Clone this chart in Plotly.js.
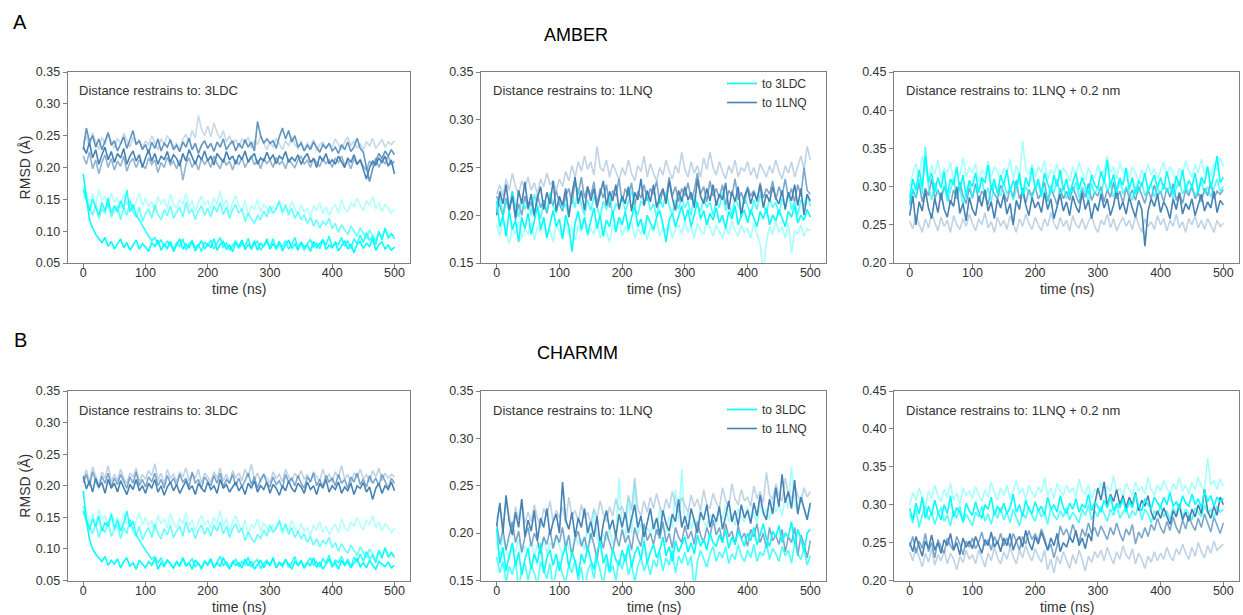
<!DOCTYPE html>
<html>
<head>
<meta charset="utf-8">
<script src="https://cdn.plot.ly/plotly-3.0.1.min.js"></script>
<style>
html,body{margin:0;padding:0;background:#fff;}
#chart{width:1243px;height:615px;}
</style>
</head>
<body>
<div id="chart"></div>
<script>
// time axis (ns), every 5 ns
const time = [0,5,10,15,20,25,30,35,40,45,50,55,60,65,70,75,80,85,90,95,
100,105,110,115,120,125,130,135,140,145,150,155,160,165,170,175,180,185,190,195,
200,205,210,215,220,225,230,235,240,245,250,255,260,265,270,275,280,285,290,295,
300,305,310,315,320,325,330,335,340,345,350,355,360,365,370,375,380,385,390,395,
400,405,410,415,420,425,430,435,440,445,450,455,460,465,470,475,480,485,490,495,500];

const panelTitles = ["AMBER", "CHARMM"];
const panelLetters = ["A", "B"];
const restraintLabels = ["Distance restrains to: 3LDC", "Distance restrains to: 1LNQ", "Distance restrains to: 1LNQ + 0.2 nm"];
const legendNames = ["to 3LDC", "to 1LNQ"];
const yRanges = [[0.05, 0.35], [0.15, 0.35], [0.20, 0.45]];
const xTicks = [0, 100, 200, 300, 400, 500];

// ================= AMBER, restraints to 3LDC =================
const amber3ldc_to3ldc_1 = [0.190,0.150,0.118,0.105,0.095,0.088,0.082,0.090,0.076,0.084,
0.072,0.080,0.088,0.074,0.082,0.070,0.078,0.086,0.072,0.080,
0.075,0.068,0.082,0.076,0.086,0.070,0.079,0.073,0.084,0.068,
0.078,0.088,0.072,0.080,0.074,0.083,0.069,0.077,0.085,0.072,
0.080,0.074,0.088,0.070,0.079,0.084,0.072,0.078,0.068,0.082,
0.076,0.086,0.071,0.079,0.073,0.085,0.070,0.081,0.075,0.088,
0.072,0.080,0.074,0.084,0.069,0.078,0.086,0.073,0.080,0.070,
0.083,0.075,0.079,0.068,0.084,0.074,0.080,0.087,0.071,0.078,
0.074,0.082,0.069,0.078,0.085,0.072,0.080,0.066,0.079,0.084,
0.073,0.081,0.076,0.088,0.070,0.079,0.083,0.072,0.078,0.070,
0.075];
const amber3ldc_to3ldc_2 = [0.165,0.148,0.132,0.150,0.138,0.125,0.145,0.132,0.152,0.128,
0.140,0.130,0.148,0.135,0.165,0.130,0.142,0.125,0.118,0.108,
0.100,0.092,0.085,0.090,0.080,0.086,0.076,0.084,0.078,0.072,
0.082,0.076,0.088,0.070,0.080,0.085,0.074,0.079,0.068,0.083,
0.077,0.086,0.072,0.080,0.090,0.074,0.082,0.070,0.078,0.085,
0.073,0.081,0.076,0.089,0.072,0.080,0.084,0.070,0.078,0.083,
0.075,0.088,0.071,0.080,0.076,0.085,0.072,0.079,0.090,0.074,
0.082,0.070,0.080,0.087,0.075,0.081,0.072,0.086,0.078,0.092,
0.074,0.083,0.079,0.090,0.076,0.085,0.072,0.088,0.080,0.094,
0.082,0.098,0.085,0.092,0.079,0.100,0.086,0.105,0.090,0.096,
0.088];
const amber3ldc_to3ldc_3 = [0.170,0.150,0.138,0.125,0.142,0.120,0.135,0.128,0.145,0.122,
0.132,0.140,0.118,0.136,0.125,0.148,0.130,0.122,0.138,0.115,
0.128,0.135,0.120,0.142,0.126,0.118,0.134,0.124,0.140,0.120,
0.130,0.138,0.122,0.145,0.128,0.135,0.118,0.132,0.140,0.125,
0.136,0.122,0.140,0.130,0.145,0.126,0.138,0.120,0.134,0.142,
0.128,0.135,0.115,0.128,0.120,0.112,0.125,0.118,0.132,0.122,
0.140,0.128,0.135,0.148,0.130,0.142,0.125,0.136,0.120,0.130,
0.118,0.126,0.112,0.122,0.108,0.118,0.105,0.115,0.110,0.120,
0.104,0.112,0.098,0.110,0.102,0.095,0.108,0.100,0.092,0.105,
0.096,0.088,0.102,0.094,0.085,0.098,0.090,0.104,0.088,0.096,
0.092];
const amber3ldc_to3ldc_4 = [0.150,0.162,0.145,0.158,0.140,0.165,0.148,0.155,0.138,0.160,
0.145,0.152,0.135,0.158,0.142,0.150,0.132,0.148,0.160,0.140,
0.152,0.138,0.147,0.130,0.155,0.142,0.150,0.135,0.158,0.143,
0.136,0.150,0.142,0.160,0.138,0.148,0.130,0.145,0.155,0.140,
0.148,0.135,0.152,0.142,0.163,0.138,0.150,0.128,0.145,0.155,
0.140,0.132,0.148,0.125,0.140,0.135,0.150,0.130,0.142,0.136,
0.128,0.140,0.133,0.145,0.125,0.138,0.130,0.147,0.135,0.128,
0.142,0.130,0.136,0.122,0.140,0.132,0.145,0.128,0.138,0.125,
0.135,0.142,0.128,0.150,0.136,0.130,0.145,0.138,0.152,0.140,
0.132,0.148,0.140,0.155,0.135,0.145,0.130,0.142,0.136,0.128,
0.135];
const amber3ldc_to1lnq_1 = [0.232,0.222,0.240,0.215,0.228,0.205,0.220,0.232,0.212,0.225,
0.208,0.222,0.215,0.230,0.205,0.218,0.226,0.210,0.220,0.200,
0.215,0.228,0.210,0.222,0.205,0.218,0.212,0.225,0.208,0.220,
0.214,0.202,0.222,0.210,0.228,0.215,0.205,0.220,0.212,0.226,
0.210,0.218,0.204,0.222,0.215,0.208,0.225,0.212,0.218,0.205,
0.220,0.212,0.226,0.208,0.216,0.222,0.205,0.215,0.210,0.224,
0.212,0.220,0.206,0.218,0.213,0.225,0.208,0.216,0.210,0.220,
0.205,0.215,0.222,0.208,0.214,0.200,0.218,0.210,0.222,0.206,
0.212,0.205,0.218,0.210,0.200,0.215,0.208,0.220,0.205,0.212,
0.195,0.182,0.200,0.210,0.204,0.215,0.208,0.218,0.202,0.212,
0.190];
const amber3ldc_to1lnq_2 = [0.228,0.262,0.240,0.250,0.232,0.245,0.228,0.240,0.255,0.235,
0.242,0.226,0.238,0.248,0.230,0.244,0.258,0.236,0.242,0.228,
0.236,0.222,0.240,0.230,0.245,0.226,0.238,0.232,0.244,0.228,
0.235,0.225,0.240,0.232,0.246,0.228,0.238,0.222,0.235,0.242,
0.230,0.238,0.225,0.240,0.232,0.245,0.228,0.236,0.242,0.226,
0.238,0.230,0.244,0.232,0.240,0.226,0.272,0.250,0.238,0.245,
0.238,0.242,0.230,0.248,0.262,0.245,0.258,0.240,0.250,0.232,
0.238,0.226,0.235,0.228,0.240,0.232,0.224,0.236,0.230,0.238,
0.226,0.232,0.222,0.236,0.228,0.240,0.225,0.232,0.246,0.230,
0.224,0.200,0.178,0.198,0.210,0.222,0.214,0.226,0.218,0.228,
0.220];
const amber3ldc_to1lnq_3 = [0.218,0.205,0.225,0.198,0.212,0.190,0.208,0.220,0.200,0.214,
0.196,0.210,0.202,0.218,0.194,0.208,0.214,0.200,0.212,0.205,
0.198,0.215,0.205,0.212,0.192,0.208,0.200,0.216,0.204,0.210,
0.198,0.212,0.180,0.205,0.215,0.200,0.210,0.196,0.214,0.205,
0.212,0.200,0.218,0.206,0.198,0.214,0.204,0.210,0.196,0.212,
0.205,0.215,0.200,0.210,0.218,0.204,0.212,0.198,0.215,0.206,
0.212,0.200,0.216,0.205,0.210,0.198,0.214,0.206,0.200,0.212,
0.218,0.205,0.212,0.200,0.215,0.208,0.202,0.214,0.206,0.212,
0.200,0.215,0.208,0.218,0.204,0.210,0.198,0.214,0.205,0.212,
0.202,0.196,0.210,0.204,0.215,0.200,0.212,0.206,0.218,0.204,
0.210];
const amber3ldc_to1lnq_4 = [0.238,0.250,0.232,0.255,0.240,0.228,0.248,0.236,0.252,0.240,
0.230,0.246,0.238,0.254,0.242,0.232,0.248,0.236,0.244,0.230,
0.242,0.235,0.250,0.238,0.228,0.245,0.236,0.250,0.240,0.232,
0.238,0.226,0.244,0.252,0.240,0.258,0.246,0.282,0.260,0.250,
0.265,0.248,0.270,0.255,0.245,0.258,0.240,0.250,0.236,0.244,
0.232,0.245,0.238,0.248,0.230,0.242,0.236,0.250,0.238,0.228,
0.240,0.232,0.246,0.236,0.228,0.242,0.234,0.248,0.236,0.230,
0.242,0.228,0.238,0.232,0.244,0.226,0.236,0.240,0.230,0.238,
0.232,0.245,0.236,0.228,0.240,0.248,0.234,0.242,0.230,0.238,
0.228,0.240,0.234,0.246,0.230,0.238,0.244,0.232,0.240,0.236,
0.242];

// ================= AMBER, restraints to 1LNQ =================
const amber1lnq_to3ldc_1 = [0.215,0.188,0.200,0.178,0.205,0.185,0.195,0.172,0.198,0.186,
0.202,0.180,0.194,0.210,0.185,0.198,0.176,0.192,0.205,0.188,
0.196,0.175,0.200,0.188,0.162,0.192,0.204,0.185,0.198,0.180,
0.194,0.208,0.186,0.200,0.178,0.195,0.188,0.205,0.182,0.198,
0.190,0.204,0.185,0.198,0.210,0.188,0.196,0.180,0.200,0.192,
0.185,0.198,0.205,0.190,0.172,0.195,0.202,0.188,0.198,0.210,
0.194,0.206,0.188,0.200,0.214,0.196,0.205,0.190,0.202,0.195,
0.208,0.192,0.200,0.186,0.204,0.196,0.210,0.190,0.200,0.205,
0.192,0.206,0.198,0.188,0.204,0.196,0.208,0.190,0.200,0.194,
0.206,0.196,0.188,0.204,0.198,0.210,0.192,0.200,0.195,0.206,
0.198];
const amber1lnq_to3ldc_2 = [0.205,0.222,0.198,0.215,0.205,0.225,0.210,0.198,0.218,0.206,
0.214,0.200,0.222,0.208,0.196,0.215,0.204,0.224,0.210,0.202,
0.218,0.206,0.212,0.198,0.220,0.208,0.228,0.210,0.200,0.216,
0.205,0.220,0.210,0.198,0.215,0.206,0.222,0.200,0.212,0.208,
0.220,0.204,0.214,0.226,0.208,0.200,0.215,0.210,0.222,0.205,
0.212,0.198,0.218,0.208,0.224,0.210,0.200,0.216,0.206,0.220,
0.208,0.215,0.200,0.222,0.210,0.204,0.218,0.208,0.214,0.200,
0.216,0.208,0.224,0.205,0.212,0.200,0.218,0.210,0.204,0.220,
0.210,0.200,0.216,0.206,0.222,0.212,0.202,0.218,0.208,0.214,
0.200,0.218,0.208,0.224,0.206,0.214,0.200,0.216,0.210,0.222,
0.210];
const amber1lnq_to3ldc_3 = [0.190,0.178,0.196,0.182,0.170,0.188,0.180,0.194,0.176,0.186,
0.180,0.192,0.174,0.188,0.182,0.196,0.178,0.186,0.172,0.190,
0.184,0.176,0.192,0.180,0.188,0.174,0.190,0.182,0.196,0.178,
0.186,0.180,0.194,0.176,0.188,0.182,0.172,0.190,0.184,0.196,
0.178,0.188,0.182,0.194,0.176,0.186,0.180,0.192,0.174,0.188,
0.182,0.196,0.178,0.188,0.184,0.192,0.176,0.186,0.190,0.180,
0.194,0.182,0.188,0.176,0.192,0.184,0.180,0.196,0.186,0.178,
0.190,0.182,0.176,0.188,0.180,0.194,0.184,0.178,0.190,0.182,
0.186,0.176,0.192,0.180,0.170,0.140,0.172,0.188,0.180,0.194,
0.182,0.188,0.176,0.192,0.160,0.184,0.180,0.190,0.178,0.186,
0.184];
const amber1lnq_to1lnq_1 = [0.200,0.225,0.212,0.232,0.205,0.220,0.198,0.226,0.212,0.235,
0.208,0.222,0.200,0.218,0.230,0.206,0.224,0.212,0.236,0.204,
0.220,0.210,0.228,0.198,0.222,0.240,0.212,0.226,0.205,0.230,
0.215,0.228,0.208,0.222,0.236,0.210,0.225,0.215,0.232,0.206,
0.220,0.212,0.230,0.204,0.224,0.216,0.238,0.210,0.226,0.214,
0.232,0.208,0.220,0.228,0.212,0.236,0.218,0.205,0.226,0.214,
0.230,0.216,0.224,0.208,0.238,0.220,0.212,0.228,0.215,0.232,
0.210,0.222,0.216,0.234,0.206,0.225,0.214,0.230,0.198,0.220,
0.228,0.212,0.224,0.216,0.232,0.208,0.222,0.214,0.230,0.218,
0.212,0.226,0.206,0.224,0.215,0.232,0.210,0.228,0.200,0.222,
0.215];
const amber1lnq_to1lnq_2 = [0.220,0.210,0.200,0.218,0.205,0.225,0.195,0.212,0.200,0.220,
0.206,0.214,0.198,0.222,0.208,0.216,0.202,0.218,0.210,0.226,
0.212,0.204,0.220,0.228,0.212,0.236,0.222,0.240,0.218,0.230,
0.220,0.235,0.212,0.228,0.218,0.232,0.208,0.226,0.220,0.238,
0.214,0.228,0.220,0.234,0.210,0.225,0.218,0.232,0.215,0.228,
0.222,0.236,0.212,0.226,0.218,0.240,0.220,0.230,0.214,0.228,
0.220,0.234,0.216,0.226,0.244,0.222,0.230,0.214,0.236,0.220,
0.228,0.218,0.232,0.210,0.226,0.220,0.238,0.216,0.224,0.212,
0.230,0.220,0.226,0.214,0.234,0.218,0.228,0.222,0.236,0.216,
0.230,0.220,0.238,0.218,0.228,0.214,0.232,0.220,0.250,0.226,
0.222];
const amber1lnq_to1lnq_3 = [0.222,0.232,0.220,0.238,0.226,0.244,0.230,0.222,0.236,0.228,
0.240,0.226,0.234,0.222,0.238,0.230,0.244,0.232,0.236,0.226,
0.238,0.230,0.246,0.236,0.252,0.240,0.256,0.246,0.262,0.248,
0.256,0.242,0.272,0.250,0.246,0.258,0.240,0.254,0.246,0.236,
0.250,0.242,0.258,0.244,0.236,0.252,0.246,0.262,0.240,0.254,
0.244,0.236,0.250,0.242,0.258,0.246,0.238,0.252,0.244,0.266,
0.248,0.240,0.256,0.244,0.252,0.240,0.260,0.248,0.266,0.250,
0.242,0.256,0.246,0.238,0.252,0.244,0.258,0.240,0.250,0.246,
0.256,0.242,0.250,0.238,0.254,0.246,0.240,0.252,0.244,0.258,
0.246,0.238,0.252,0.244,0.256,0.240,0.250,0.262,0.248,0.272,
0.258];

// ================= AMBER, restraints to 1LNQ + 0.2 nm =================
const amberShift_to3ldc_1 = [0.285,0.310,0.295,0.322,0.300,0.340,0.305,0.318,0.292,0.312,
0.298,0.320,0.288,0.310,0.302,0.326,0.295,0.315,0.286,0.308,
0.300,0.318,0.292,0.312,0.305,0.328,0.296,0.310,0.290,0.315,
0.302,0.322,0.294,0.308,0.298,0.318,0.288,0.312,0.300,0.325,
0.296,0.310,0.290,0.318,0.304,0.292,0.315,0.300,0.322,0.295,
0.310,0.288,0.305,0.318,0.296,0.312,0.300,0.290,0.315,0.302,
0.298,0.320,0.305,0.335,0.300,0.316,0.292,0.310,0.302,0.324,
0.296,0.312,0.290,0.308,0.300,0.318,0.294,0.306,0.315,0.298,
0.312,0.296,0.320,0.302,0.290,0.314,0.300,0.322,0.296,0.308,
0.300,0.318,0.292,0.312,0.304,0.326,0.298,0.316,0.340,0.305,
0.312];
const amberShift_to3ldc_2 = [0.275,0.298,0.285,0.310,0.290,0.352,0.300,0.282,0.305,0.292,
0.288,0.302,0.280,0.296,0.310,0.285,0.298,0.276,0.292,0.306,
0.284,0.300,0.292,0.312,0.286,0.298,0.280,0.304,0.294,0.288,
0.306,0.290,0.300,0.282,0.296,0.310,0.288,0.300,0.292,0.284,
0.298,0.306,0.286,0.296,0.280,0.302,0.292,0.310,0.288,0.300,
0.284,0.298,0.292,0.306,0.286,0.300,0.294,0.280,0.304,0.290,
0.300,0.288,0.310,0.294,0.302,0.286,0.298,0.312,0.290,0.300,
0.294,0.282,0.300,0.292,0.306,0.288,0.296,0.304,0.286,0.298,
0.290,0.304,0.294,0.300,0.284,0.298,0.308,0.290,0.300,0.292,
0.302,0.288,0.296,0.306,0.290,0.300,0.286,0.298,0.310,0.294,
0.300];
const amberShift_to3ldc_3 = [0.300,0.318,0.330,0.312,0.340,0.322,0.308,0.328,0.316,0.335,
0.310,0.324,0.318,0.332,0.306,0.320,0.314,0.338,0.312,0.326,
0.318,0.330,0.306,0.322,0.316,0.334,0.312,0.326,0.320,0.308,
0.324,0.318,0.336,0.310,0.328,0.314,0.360,0.322,0.316,0.330,
0.312,0.326,0.318,0.334,0.308,0.322,0.316,0.330,0.310,0.324,
0.318,0.306,0.326,0.314,0.332,0.318,0.308,0.324,0.316,0.312,
0.328,0.314,0.322,0.340,0.318,0.326,0.310,0.332,0.318,0.324,
0.312,0.326,0.318,0.306,0.322,0.314,0.330,0.316,0.324,0.310,
0.320,0.332,0.314,0.326,0.318,0.308,0.324,0.316,0.334,0.320,
0.312,0.328,0.318,0.336,0.316,0.326,0.312,0.330,0.320,0.338,
0.326];
const amberShift_to1lnq_1 = [0.262,0.288,0.250,0.280,0.268,0.295,0.272,0.258,0.285,0.266,
0.292,0.270,0.260,0.282,0.274,0.300,0.265,0.278,0.255,0.286,
0.270,0.262,0.288,0.274,0.296,0.268,0.280,0.258,0.284,0.272,
0.290,0.264,0.278,0.250,0.282,0.270,0.298,0.276,0.262,0.286,
0.272,0.280,0.266,0.292,0.270,0.284,0.258,0.276,0.290,0.268,
0.280,0.262,0.288,0.274,0.266,0.292,0.270,0.282,0.258,0.278,
0.268,0.290,0.272,0.284,0.262,0.276,0.296,0.270,0.280,0.264,
0.286,0.272,0.260,0.282,0.270,0.222,0.268,0.284,0.274,0.290,
0.266,0.280,0.272,0.258,0.284,0.270,0.292,0.264,0.278,0.270,
0.284,0.262,0.276,0.290,0.268,0.280,0.272,0.294,0.266,0.282,
0.276];
const amberShift_to1lnq_2 = [0.278,0.295,0.285,0.305,0.280,0.298,0.288,0.310,0.284,0.296,
0.282,0.300,0.290,0.276,0.296,0.284,0.306,0.288,0.278,0.298,
0.286,0.304,0.280,0.294,0.288,0.276,0.300,0.290,0.284,0.302,
0.292,0.280,0.298,0.286,0.308,0.284,0.294,0.278,0.296,0.288,
0.300,0.284,0.292,0.306,0.280,0.296,0.288,0.276,0.298,0.284,
0.294,0.282,0.300,0.290,0.278,0.296,0.286,0.304,0.282,0.292,
0.288,0.300,0.280,0.296,0.286,0.306,0.284,0.294,0.278,0.298,
0.286,0.296,0.282,0.300,0.290,0.278,0.296,0.284,0.302,0.288,
0.294,0.280,0.298,0.286,0.304,0.282,0.292,0.278,0.296,0.288,
0.300,0.284,0.292,0.280,0.298,0.288,0.306,0.284,0.294,0.290,
0.296];
const amberShift_to1lnq_3 = [0.255,0.245,0.262,0.250,0.240,0.258,0.246,0.265,0.252,0.242,
0.260,0.248,0.256,0.240,0.262,0.250,0.244,0.258,0.248,0.264,
0.252,0.242,0.258,0.250,0.266,0.246,0.254,0.240,0.260,0.248,
0.256,0.244,0.262,0.250,0.240,0.258,0.248,0.264,0.252,0.244,
0.260,0.250,0.242,0.258,0.248,0.266,0.252,0.244,0.260,0.248,
0.256,0.242,0.262,0.250,0.246,0.258,0.244,0.254,0.262,0.248,
0.240,0.256,0.250,0.264,0.246,0.258,0.242,0.252,0.260,0.248,
0.256,0.244,0.262,0.250,0.240,0.258,0.248,0.254,0.244,0.262,
0.250,0.258,0.242,0.256,0.248,0.264,0.246,0.254,0.240,0.258,
0.250,0.262,0.246,0.256,0.244,0.258,0.250,0.240,0.256,0.248,
0.252];

// ================= CHARMM, restraints to 3LDC =================
const charmm3ldc_to3ldc_1 = [0.192,0.145,0.115,0.100,0.092,0.086,0.080,0.088,0.074,0.082,
0.076,0.084,0.070,0.080,0.086,0.072,0.078,0.068,0.082,0.076,
0.070,0.080,0.074,0.085,0.068,0.078,0.072,0.082,0.076,0.070,
0.080,0.072,0.086,0.074,0.078,0.068,0.082,0.075,0.070,0.080,
0.074,0.083,0.070,0.078,0.072,0.086,0.075,0.068,0.080,0.074,
0.078,0.070,0.084,0.073,0.080,0.068,0.076,0.082,0.070,0.079,
0.074,0.086,0.070,0.078,0.072,0.083,0.076,0.068,0.080,0.074,
0.082,0.070,0.078,0.074,0.086,0.071,0.079,0.068,0.076,0.084,
0.072,0.078,0.068,0.082,0.074,0.080,0.070,0.077,0.085,0.072,
0.078,0.070,0.082,0.074,0.068,0.080,0.076,0.072,0.079,0.070,
0.074];
const charmm3ldc_to3ldc_2 = [0.160,0.145,0.130,0.148,0.135,0.152,0.128,0.142,0.136,0.155,
0.132,0.146,0.128,0.140,0.160,0.135,0.144,0.122,0.115,0.106,
0.098,0.090,0.084,0.088,0.078,0.085,0.075,0.082,0.077,0.070,
0.080,0.074,0.086,0.072,0.079,0.084,0.072,0.078,0.068,0.081,
0.076,0.085,0.070,0.079,0.088,0.073,0.080,0.069,0.077,0.084,
0.072,0.080,0.075,0.087,0.071,0.079,0.083,0.069,0.077,0.082,
0.074,0.086,0.070,0.079,0.075,0.084,0.071,0.078,0.088,0.073,
0.081,0.069,0.079,0.086,0.074,0.080,0.071,0.085,0.077,0.090,
0.073,0.082,0.078,0.088,0.075,0.084,0.071,0.087,0.079,0.092,
0.080,0.096,0.084,0.090,0.078,0.098,0.085,0.102,0.088,0.094,
0.086];
const charmm3ldc_to3ldc_3 = [0.168,0.148,0.136,0.124,0.140,0.118,0.134,0.126,0.144,0.120,
0.130,0.138,0.116,0.134,0.124,0.146,0.128,0.120,0.136,0.114,
0.126,0.134,0.118,0.140,0.124,0.116,0.132,0.122,0.138,0.118,
0.128,0.136,0.120,0.143,0.126,0.133,0.116,0.130,0.138,0.123,
0.134,0.120,0.138,0.128,0.143,0.124,0.136,0.118,0.132,0.140,
0.126,0.133,0.113,0.126,0.118,0.110,0.123,0.116,0.130,0.120,
0.138,0.126,0.133,0.146,0.128,0.140,0.123,0.134,0.118,0.128,
0.116,0.124,0.110,0.120,0.106,0.116,0.103,0.113,0.108,0.118,
0.102,0.110,0.096,0.108,0.100,0.093,0.106,0.098,0.090,0.103,
0.094,0.086,0.100,0.092,0.083,0.096,0.088,0.102,0.086,0.094,
0.090];
const charmm3ldc_to3ldc_4 = [0.152,0.160,0.143,0.156,0.138,0.163,0.146,0.153,0.136,0.158,
0.143,0.150,0.133,0.156,0.140,0.148,0.130,0.146,0.158,0.138,
0.150,0.136,0.145,0.128,0.153,0.140,0.148,0.133,0.156,0.141,
0.134,0.148,0.140,0.158,0.136,0.146,0.128,0.143,0.153,0.138,
0.146,0.133,0.150,0.140,0.161,0.136,0.148,0.126,0.143,0.153,
0.138,0.130,0.146,0.123,0.138,0.133,0.148,0.128,0.140,0.134,
0.126,0.138,0.131,0.143,0.123,0.136,0.128,0.145,0.133,0.126,
0.140,0.128,0.134,0.120,0.138,0.130,0.143,0.126,0.136,0.123,
0.133,0.140,0.126,0.148,0.134,0.128,0.143,0.136,0.150,0.138,
0.130,0.146,0.138,0.153,0.133,0.143,0.128,0.140,0.134,0.126,
0.133];
const charmm3ldc_to1lnq_1 = [0.215,0.195,0.208,0.190,0.212,0.198,0.205,0.188,0.210,0.196,
0.204,0.190,0.208,0.196,0.186,0.202,0.194,0.210,0.192,0.200,
0.188,0.204,0.196,0.210,0.190,0.200,0.185,0.198,0.206,0.192,
0.202,0.188,0.198,0.208,0.194,0.200,0.186,0.204,0.196,0.190,
0.206,0.194,0.200,0.188,0.210,0.196,0.202,0.190,0.198,0.206,
0.192,0.200,0.186,0.204,0.196,0.208,0.190,0.200,0.194,0.206,
0.188,0.202,0.196,0.185,0.200,0.192,0.208,0.196,0.190,0.204,
0.198,0.188,0.206,0.194,0.200,0.186,0.204,0.196,0.210,0.190,
0.200,0.194,0.206,0.188,0.198,0.192,0.204,0.186,0.200,0.196,
0.205,0.190,0.198,0.178,0.196,0.204,0.188,0.200,0.194,0.206,
0.192];
const charmm3ldc_to1lnq_2 = [0.205,0.218,0.200,0.222,0.208,0.196,0.215,0.204,0.220,0.198,
0.212,0.202,0.218,0.206,0.196,0.214,0.204,0.222,0.200,0.210,
0.198,0.214,0.206,0.220,0.200,0.210,0.196,0.216,0.204,0.212,
0.200,0.218,0.206,0.212,0.198,0.222,0.204,0.210,0.196,0.214,
0.206,0.200,0.216,0.204,0.220,0.198,0.210,0.204,0.218,0.200,
0.212,0.198,0.208,0.220,0.202,0.214,0.196,0.210,0.218,0.204,
0.198,0.214,0.202,0.208,0.196,0.218,0.206,0.212,0.200,0.216,
0.204,0.196,0.214,0.206,0.220,0.200,0.210,0.198,0.216,0.206,
0.212,0.200,0.218,0.204,0.210,0.196,0.214,0.206,0.220,0.202,
0.210,0.198,0.216,0.204,0.212,0.200,0.218,0.206,0.196,0.212,
0.204];
const charmm3ldc_to1lnq_3 = [0.210,0.225,0.205,0.230,0.215,0.200,0.222,0.212,0.232,0.206,
0.218,0.208,0.226,0.212,0.204,0.220,0.214,0.228,0.206,0.218,
0.210,0.224,0.216,0.235,0.208,0.220,0.202,0.226,0.212,0.218,
0.206,0.222,0.214,0.228,0.208,0.218,0.212,0.226,0.204,0.220,
0.214,0.206,0.222,0.212,0.228,0.208,0.218,0.204,0.224,0.212,
0.220,0.208,0.226,0.214,0.234,0.210,0.220,0.206,0.218,0.212,
0.204,0.222,0.212,0.218,0.206,0.226,0.214,0.208,0.220,0.212,
0.224,0.210,0.218,0.206,0.222,0.214,0.208,0.226,0.212,0.218,
0.206,0.222,0.212,0.232,0.210,0.218,0.204,0.220,0.214,0.226,
0.210,0.218,0.206,0.224,0.214,0.228,0.208,0.220,0.212,0.218,
0.214];

// ================= CHARMM, restraints to 1LNQ =================
const charmm1lnq_to3ldc_1 = [0.205,0.168,0.185,0.160,0.176,0.190,0.165,0.180,0.156,0.172,
0.184,0.162,0.178,0.168,0.190,0.158,0.174,0.182,0.166,0.178,
0.160,0.176,0.186,0.164,0.180,0.170,0.155,0.178,0.168,0.186,
0.172,0.162,0.180,0.192,0.168,0.178,0.160,0.184,0.172,0.166,
0.182,0.170,0.188,0.164,0.178,0.186,0.172,0.192,0.168,0.180,
0.188,0.174,0.182,0.196,0.176,0.186,0.170,0.192,0.180,0.188,
0.196,0.180,0.190,0.178,0.198,0.186,0.194,0.182,0.200,0.190,
0.186,0.198,0.190,0.204,0.184,0.196,0.188,0.202,0.194,0.186,
0.200,0.192,0.206,0.188,0.198,0.210,0.194,0.186,0.202,0.196,
0.208,0.190,0.200,0.196,0.212,0.188,0.204,0.194,0.180,0.200,
0.204];
const charmm1lnq_to3ldc_2 = [0.175,0.158,0.170,0.148,0.165,0.156,0.172,0.140,0.162,0.168,
0.150,0.166,0.158,0.145,0.170,0.160,0.152,0.168,0.142,0.162,
0.170,0.156,0.148,0.166,0.158,0.172,0.150,0.164,0.138,0.160,
0.168,0.152,0.174,0.160,0.145,0.170,0.158,0.166,0.150,0.172,
0.162,0.178,0.156,0.168,0.148,0.165,0.175,0.160,0.170,0.156,
0.172,0.164,0.180,0.160,0.174,0.166,0.182,0.158,0.176,0.168,
0.180,0.166,0.176,0.140,0.170,0.182,0.172,0.164,0.178,0.186,
0.170,0.180,0.174,0.186,0.168,0.178,0.172,0.188,0.176,0.170,
0.182,0.174,0.188,0.170,0.180,0.176,0.190,0.172,0.184,0.178,
0.170,0.186,0.176,0.182,0.168,0.190,0.178,0.172,0.184,0.166,
0.176];
const charmm1lnq_to3ldc_3 = [0.190,0.176,0.196,0.182,0.172,0.188,0.180,0.194,0.178,0.186,
0.180,0.192,0.176,0.188,0.182,0.196,0.178,0.190,0.184,0.198,
0.186,0.176,0.194,0.184,0.180,0.200,0.188,0.194,0.182,0.210,
0.190,0.224,0.196,0.186,0.200,0.192,0.206,0.188,0.198,0.258,
0.205,0.194,0.236,0.200,0.252,0.198,0.210,0.192,0.206,0.200,
0.214,0.198,0.226,0.206,0.200,0.218,0.206,0.246,0.212,0.268,
0.210,0.222,0.204,0.216,0.208,0.226,0.212,0.206,0.220,0.214,
0.208,0.224,0.214,0.230,0.212,0.220,0.208,0.226,0.216,0.212,
0.228,0.214,0.222,0.210,0.232,0.218,0.226,0.214,0.236,0.222,
0.230,0.218,0.238,0.226,0.270,0.232,0.222,0.240,0.226,0.218,
0.228];
const charmm1lnq_to1lnq_1 = [0.208,0.232,0.200,0.240,0.212,0.198,0.222,0.206,0.236,0.196,
0.214,0.202,0.224,0.192,0.216,0.206,0.226,0.198,0.212,0.220,
0.200,0.254,0.214,0.204,0.222,0.196,0.216,0.206,0.226,0.200,
0.212,0.196,0.218,0.188,0.210,0.224,0.204,0.214,0.196,0.220,
0.206,0.222,0.200,0.214,0.230,0.206,0.218,0.196,0.212,0.226,
0.204,0.216,0.198,0.224,0.210,0.202,0.220,0.212,0.236,0.206,
0.218,0.204,0.226,0.212,0.200,0.222,0.214,0.230,0.206,0.220,
0.212,0.228,0.204,0.218,0.234,0.212,0.224,0.208,0.230,0.216,
0.224,0.210,0.232,0.218,0.240,0.222,0.214,0.236,0.220,0.248,
0.228,0.262,0.232,0.244,0.226,0.256,0.220,0.238,0.226,0.214,
0.232];
const charmm1lnq_to1lnq_2 = [0.210,0.188,0.204,0.182,0.198,0.212,0.190,0.202,0.180,0.196,
0.206,0.186,0.200,0.192,0.178,0.196,0.188,0.204,0.184,0.198,
0.190,0.206,0.184,0.198,0.176,0.194,0.202,0.186,0.196,0.180,
0.200,0.188,0.172,0.196,0.184,0.202,0.190,0.180,0.198,0.186,
0.204,0.190,0.198,0.182,0.206,0.194,0.186,0.210,0.192,0.200,
0.188,0.204,0.194,0.212,0.190,0.200,0.184,0.206,0.196,0.190,
0.208,0.194,0.202,0.188,0.212,0.198,0.190,0.206,0.196,0.214,
0.198,0.206,0.190,0.210,0.196,0.202,0.188,0.208,0.194,0.200,
0.186,0.204,0.196,0.210,0.190,0.200,0.184,0.206,0.192,0.198,
0.188,0.204,0.180,0.196,0.190,0.206,0.176,0.198,0.188,0.174,
0.192];
const charmm1lnq_to1lnq_3 = [0.215,0.226,0.208,0.232,0.218,0.204,0.228,0.214,0.236,0.210,
0.222,0.212,0.230,0.216,0.206,0.226,0.218,0.234,0.212,0.224,
0.216,0.228,0.210,0.238,0.218,0.224,0.212,0.230,0.216,0.222,
0.210,0.226,0.216,0.234,0.220,0.212,0.228,0.218,0.236,0.224,
0.228,0.216,0.240,0.224,0.258,0.226,0.218,0.234,0.222,0.238,
0.226,0.242,0.228,0.220,0.236,0.226,0.244,0.230,0.222,0.238,
0.230,0.222,0.240,0.228,0.236,0.224,0.246,0.230,0.226,0.242,
0.232,0.226,0.248,0.234,0.228,0.252,0.236,0.230,0.246,0.234,
0.238,0.228,0.250,0.236,0.244,0.232,0.264,0.240,0.236,0.252,
0.240,0.234,0.258,0.242,0.236,0.250,0.240,0.232,0.248,0.238,
0.244];

// ================= CHARMM, restraints to 1LNQ + 0.2 nm =================
const charmmShift_to3ldc_1 = [0.295,0.280,0.302,0.288,0.310,0.282,0.298,0.286,0.306,0.290,
0.280,0.300,0.288,0.312,0.284,0.296,0.290,0.278,0.302,0.292,
0.286,0.304,0.290,0.282,0.300,0.294,0.310,0.286,0.298,0.290,
0.302,0.288,0.296,0.314,0.290,0.300,0.284,0.306,0.294,0.288,
0.304,0.292,0.298,0.286,0.310,0.294,0.300,0.290,0.312,0.296,
0.288,0.302,0.294,0.308,0.290,0.300,0.296,0.314,0.292,0.304,
0.298,0.290,0.306,0.296,0.312,0.292,0.302,0.296,0.308,0.290,
0.304,0.296,0.314,0.298,0.292,0.308,0.300,0.294,0.310,0.302,
0.296,0.310,0.300,0.316,0.298,0.304,0.294,0.312,0.302,0.298,
0.314,0.300,0.308,0.296,0.318,0.304,0.312,0.298,0.310,0.304,
0.308];
const charmmShift_to3ldc_2 = [0.288,0.276,0.294,0.270,0.286,0.298,0.280,0.290,0.274,0.288,
0.296,0.278,0.286,0.272,0.292,0.282,0.298,0.276,0.288,0.280,
0.272,0.290,0.284,0.298,0.278,0.288,0.274,0.292,0.282,0.296,
0.280,0.290,0.276,0.294,0.284,0.272,0.290,0.282,0.298,0.286,
0.278,0.294,0.284,0.290,0.274,0.296,0.286,0.280,0.292,0.284,
0.296,0.280,0.290,0.284,0.276,0.294,0.286,0.300,0.280,0.292,
0.284,0.298,0.288,0.278,0.294,0.286,0.300,0.282,0.290,0.296,
0.282,0.292,0.286,0.300,0.280,0.294,0.288,0.276,0.292,0.286,
0.298,0.284,0.292,0.280,0.296,0.288,0.302,0.284,0.294,0.288,
0.280,0.296,0.290,0.284,0.300,0.288,0.294,0.282,0.298,0.290,
0.294];
const charmmShift_to3ldc_3 = [0.300,0.316,0.306,0.322,0.310,0.296,0.318,0.308,0.326,0.312,
0.304,0.320,0.310,0.328,0.306,0.316,0.300,0.322,0.312,0.318,
0.308,0.324,0.314,0.304,0.320,0.310,0.330,0.316,0.306,0.322,
0.312,0.326,0.308,0.318,0.332,0.314,0.322,0.306,0.326,0.316,
0.310,0.324,0.316,0.336,0.312,0.322,0.308,0.328,0.318,0.312,
0.326,0.316,0.322,0.310,0.334,0.318,0.314,0.326,0.308,0.320,
0.316,0.330,0.312,0.324,0.318,0.338,0.316,0.322,0.310,0.328,
0.320,0.312,0.330,0.318,0.324,0.314,0.336,0.320,0.312,0.326,
0.318,0.332,0.322,0.314,0.328,0.320,0.336,0.318,0.326,0.314,
0.330,0.320,0.336,0.324,0.318,0.362,0.326,0.332,0.320,0.334,
0.324];
const charmmShift_to1lnq_1 = [0.250,0.238,0.258,0.244,0.232,0.252,0.242,0.260,0.240,0.250,
0.236,0.254,0.246,0.262,0.240,0.250,0.234,0.256,0.244,0.252,
0.242,0.258,0.248,0.236,0.254,0.246,0.264,0.244,0.252,0.238,
0.256,0.246,0.262,0.240,0.252,0.258,0.244,0.266,0.250,0.240,
0.258,0.248,0.264,0.252,0.240,0.256,0.246,0.262,0.238,0.250,
0.244,0.258,0.250,0.266,0.246,0.256,0.242,0.262,0.252,0.300,
0.322,0.306,0.330,0.298,0.314,0.304,0.320,0.300,0.312,0.296,
0.310,0.300,0.316,0.292,0.306,0.298,0.312,0.290,0.280,0.292,
0.282,0.296,0.286,0.274,0.292,0.284,0.300,0.280,0.290,0.278,
0.294,0.284,0.300,0.288,0.320,0.292,0.282,0.298,0.286,0.310,
0.300];
const charmmShift_to1lnq_2 = [0.245,0.258,0.236,0.252,0.242,0.262,0.238,0.250,0.230,0.254,
0.244,0.236,0.256,0.246,0.240,0.258,0.248,0.234,0.252,0.244,
0.256,0.242,0.250,0.264,0.246,0.254,0.240,0.258,0.248,0.262,
0.246,0.256,0.244,0.262,0.252,0.240,0.258,0.248,0.266,0.254,
0.262,0.252,0.268,0.256,0.240,0.248,0.230,0.246,0.272,0.260,
0.268,0.256,0.274,0.262,0.250,0.268,0.258,0.276,0.262,0.270,
0.258,0.272,0.264,0.254,0.270,0.260,0.276,0.262,0.252,0.268,
0.260,0.274,0.248,0.264,0.256,0.270,0.258,0.274,0.266,0.282,
0.270,0.262,0.278,0.266,0.284,0.270,0.262,0.280,0.268,0.286,
0.274,0.266,0.282,0.270,0.288,0.276,0.264,0.284,0.272,0.262,
0.276];
const charmmShift_to1lnq_3 = [0.238,0.226,0.244,0.230,0.218,0.236,0.224,0.242,0.220,0.234,
0.226,0.240,0.222,0.236,0.228,0.214,0.232,0.224,0.240,0.228,
0.234,0.222,0.240,0.230,0.218,0.236,0.226,0.244,0.230,0.222,
0.238,0.228,0.244,0.232,0.222,0.240,0.230,0.246,0.234,0.226,
0.242,0.232,0.224,0.240,0.214,0.228,0.210,0.232,0.222,0.238,
0.226,0.216,0.234,0.222,0.240,0.228,0.212,0.232,0.224,0.238,
0.230,0.240,0.226,0.244,0.232,0.222,0.238,0.228,0.246,0.234,
0.228,0.242,0.222,0.236,0.228,0.216,0.232,0.224,0.238,0.226,
0.236,0.228,0.244,0.232,0.226,0.242,0.234,0.248,0.236,0.228,
0.244,0.232,0.250,0.238,0.230,0.246,0.236,0.252,0.240,0.244,
0.248];

// ---------- styling ----------
const CYAN = "#00FFFF";
const BLUE = "#4682B4";
const TXT = "#333333";
const FONT = "Liberation Sans, Arial, sans-serif";
const LW = 1.6;

const panels = [
  {ax: 1, cyan: [amber3ldc_to3ldc_4, amber3ldc_to3ldc_3, amber3ldc_to3ldc_2, amber3ldc_to3ldc_1],
          blue: [amber3ldc_to1lnq_4, amber3ldc_to1lnq_3, amber3ldc_to1lnq_2, amber3ldc_to1lnq_1]},
  {ax: 2, cyan: [amber1lnq_to3ldc_3, amber1lnq_to3ldc_2, amber1lnq_to3ldc_1],
          blue: [amber1lnq_to1lnq_3, amber1lnq_to1lnq_2, amber1lnq_to1lnq_1], legend: "legend"},
  {ax: 3, cyan: [amberShift_to3ldc_3, amberShift_to3ldc_2, amberShift_to3ldc_1],
          blue: [amberShift_to1lnq_3, amberShift_to1lnq_2, amberShift_to1lnq_1]},
  {ax: 4, cyan: [charmm3ldc_to3ldc_4, charmm3ldc_to3ldc_3, charmm3ldc_to3ldc_2, charmm3ldc_to3ldc_1],
          blue: [charmm3ldc_to1lnq_3, charmm3ldc_to1lnq_2, charmm3ldc_to1lnq_1]},
  {ax: 5, cyan: [charmm1lnq_to3ldc_3, charmm1lnq_to3ldc_2, charmm1lnq_to3ldc_1],
          blue: [charmm1lnq_to1lnq_3, charmm1lnq_to1lnq_2, charmm1lnq_to1lnq_1], legend: "legend2"},
  {ax: 6, cyan: [charmmShift_to3ldc_3, charmmShift_to3ldc_2, charmmShift_to3ldc_1],
          blue: [charmmShift_to1lnq_3, charmmShift_to1lnq_2, charmmShift_to1lnq_1]}
];

function opacities(n) {
  if (n === 4) return [0.3, 0.6, 0.85, 1.0];
  return [0.35, 0.7, 1.0];
}

const traces = [];
panels.forEach(p => {
  const suf = p.ax === 1 ? "" : String(p.ax);
  const n = Math.max(p.cyan.length, p.blue.length);
  const oc = opacities(p.cyan.length), ob = opacities(p.blue.length);
  for (let i = 0; i < n; i++) {
    if (i < p.blue.length) {
      const isLast = i === p.blue.length - 1;
      traces.push({x: time, y: p.blue[i], xaxis: "x" + suf, yaxis: "y" + suf, type: "scatter", mode: "lines",
        line: {color: BLUE, width: LW}, opacity: ob[i], hoverinfo: "skip",
        name: legendNames[1], showlegend: !!(p.legend && isLast), legend: p.legend || "legend", legendrank: 2});
    }
    if (i < p.cyan.length) {
      const isLast = i === p.cyan.length - 1;
      traces.push({x: time, y: p.cyan[i], xaxis: "x" + suf, yaxis: "y" + suf, type: "scatter", mode: "lines",
        line: {color: CYAN, width: LW}, opacity: oc[i], hoverinfo: "skip",
        name: legendNames[0], showlegend: !!(p.legend && isLast), legend: p.legend || "legend", legendrank: 1});
    }
  }
});

const W = 1243, H = 615;
const colPx = [[67.7, 410], [481, 826], [894, 1239]];
const rowPx = [[72, 263], [391, 580.5]];

const layout = {
  width: W, height: H,
  margin: {l: 0, r: 0, t: 0, b: 0},
  paper_bgcolor: "#ffffff", plot_bgcolor: "#ffffff",
  font: {family: FONT, color: TXT, size: 13},
  annotations: [],
  legend: {x: 722 / W, y: 1 - 69 / H, xanchor: "left", yanchor: "top", bgcolor: "rgba(0,0,0,0)",
    font: {size: 12, color: TXT, family: FONT}, traceorder: "normal", itemwidth: 30, tracegroupgap: 0},
  legend2: {x: 722 / W, y: 1 - 395 / H, xanchor: "left", yanchor: "top", bgcolor: "rgba(0,0,0,0)",
    font: {size: 12, color: TXT, family: FONT}, traceorder: "normal", itemwidth: 30, tracegroupgap: 0}
};

for (let r = 0; r < 2; r++) {
  for (let c = 0; c < 3; c++) {
    const idx = r * 3 + c + 1;
    const suf = idx === 1 ? "" : String(idx);
    const xd = [colPx[c][0] / W, colPx[c][1] / W];
    const yd = [1 - rowPx[r][1] / H, 1 - rowPx[r][0] / H];
    const yr = yRanges[c];
    const yt = [];
    for (let k = 0; k <= Math.round((yr[1] - yr[0]) / 0.05); k++) yt.push(+(yr[0] + k * 0.05).toFixed(2));
    layout["xaxis" + suf] = {
      domain: xd, anchor: "y" + suf, range: [-25, 525],
      tickmode: "array", tickvals: xTicks, ticktext: xTicks.map(String),
      showgrid: false, zeroline: false, showline: true, mirror: true,
      linecolor: "#7f7f7f", linewidth: 1, ticks: "outside", ticklen: 4, tickcolor: "#7f7f7f",
      ticklabelstandoff: -6,
      tickfont: {size: 12.5, color: TXT, family: FONT}
    };
    layout["yaxis" + suf] = {
      domain: yd, anchor: "x" + suf, range: yr,
      tickmode: "array", tickvals: yt, ticktext: yt.map(v => v.toFixed(2)),
      showgrid: false, zeroline: false, showline: true, mirror: true,
      linecolor: "#7f7f7f", linewidth: 1, ticks: "outside", ticklen: 4, tickcolor: "#7f7f7f",
      tickfont: {size: 12.5, color: TXT, family: FONT},
      title: c === 0 ? {text: "RMSD (Å)", font: {size: 14, color: TXT, family: FONT}} : {text: ""}
    };
    // x-axis title, placed just below the tick labels
    layout.annotations.push({
      xref: "paper", yref: "paper", x: (colPx[c][0] + colPx[c][1]) / 2 / W, y: 1 - (rowPx[r][1] + 26) / H,
      xanchor: "center", yanchor: "middle", showarrow: false, text: "time (ns)",
      font: {size: 14, color: TXT, family: FONT}
    });
    layout.annotations.push({
      xref: "paper", yref: "paper", x: (colPx[c][0] + 9.5) / W, y: 1 - (rowPx[r][0] + 19) / H,
      xanchor: "left", yanchor: "middle", showarrow: false, text: restraintLabels[c],
      font: {size: 13, color: TXT, family: FONT}
    });
  }
}

layout.annotations.push(
  {xref: "paper", yref: "paper", x: 20 / W, y: 1 - 22 / H, xanchor: "center", yanchor: "middle", showarrow: false,
   text: panelLetters[0], font: {size: 20, color: "#000", family: FONT}},
  {xref: "paper", yref: "paper", x: 20 / W, y: 1 - 340 / H, xanchor: "center", yanchor: "middle", showarrow: false,
   text: panelLetters[1], font: {size: 20, color: "#000", family: FONT}},
  {xref: "paper", yref: "paper", x: 576 / W, y: 1 - 35 / H, xanchor: "center", yanchor: "middle", showarrow: false,
   text: panelTitles[0], font: {size: 18, color: "#000", family: FONT}},
  {xref: "paper", yref: "paper", x: 577 / W, y: 1 - 353 / H, xanchor: "center", yanchor: "middle", showarrow: false,
   text: panelTitles[1], font: {size: 18, color: "#000", family: FONT}}
);

Plotly.newPlot("chart", traces, layout, {staticPlot: true, displayModeBar: false});
</script>
</body>
</html>
